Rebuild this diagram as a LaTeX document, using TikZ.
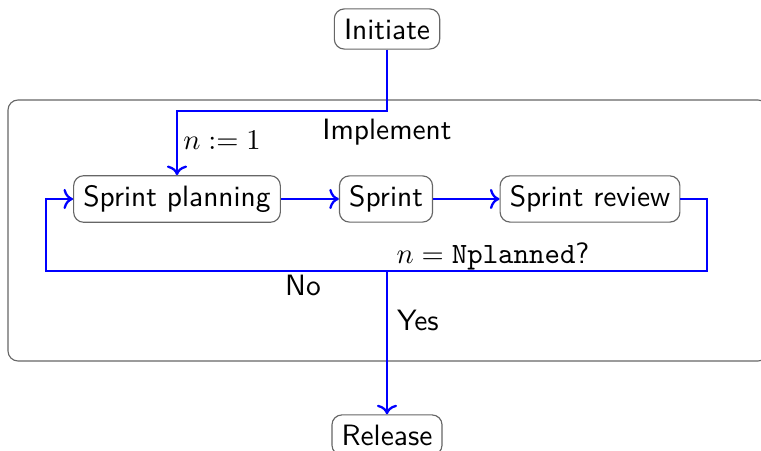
\documentclass[tikz,border=0pt]{standalone}
\usetikzlibrary{arrows.meta}
\begin{document}
\begin{tikzpicture}[x=0.35pt,y=-0.35pt,
  every node/.style={font=\fontsize{10.3}{12}\selectfont\sffamily},
  proc/.style={draw=black!60, rounded corners=3.5pt, inner sep=3.4pt, text=black},
  flow/.style={draw=blue, line width=0.8pt, ->},
  frame/.style={draw=black!60, rounded corners=3.5pt, line width=0.4pt}]
\useasboundingbox (0,0) rectangle (761,451);
\draw[frame] (8,100) rectangle (768,361);
\node[proc] (init) at (387,29) {Initiate};
\node[proc] (sp) at (177,199) {Sprint planning};
\node[proc] (s) at (386,199) {Sprint};
\node[proc] (sr) at (590,199) {Sprint review};
\node[proc] (rel) at (387,435) {Release};
\node (impl) at (387,132) {Implement};
\node (n1) at (222,140) {$n := 1$};
\node (cond) at (493,256) {$n = \texttt{Nplanned}$?};
\node (no) at (303,285) {No};
\node (yes) at (418,320) {Yes};
\coordinate (c1) at (177,111);
\coordinate (c2) at (707,271);
\coordinate (c3) at (46,271);
\coordinate (j) at (387,271);
\draw[flow] (init.south) |- (c1) -- (sp.north);
\draw[flow] (sp) -- (s);
\draw[flow] (s) -- (sr);
\draw[flow] (sr.east) -| (c2) -- (c3) |- (sp.west);
\draw[flow] (j) -- (rel.north);
\end{tikzpicture}
\end{document}
